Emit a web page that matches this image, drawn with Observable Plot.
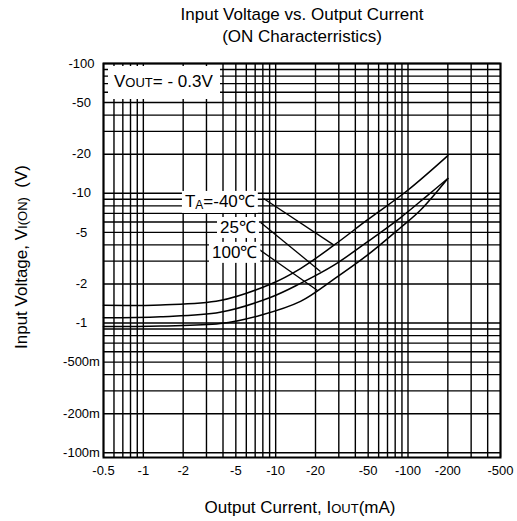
<!DOCTYPE html>
<html><head><meta charset="utf-8">
<script src="https://cdn.jsdelivr.net/npm/d3@7"></script>
<script src="https://cdn.jsdelivr.net/npm/@observablehq/plot@0.6"></script>
<style>
body{margin:0;background:#fff;}
svg{font-family:"Liberation Sans",Arial,sans-serif;}
</style>
</head><body><div id="chart"></div>
<script>
// Output current magnitude (mA) and input voltage magnitude (V) per temperature
const temps = ["-40", "25", "100"];
const current40 = [0.5, 1.35, 3.8, 9.2, 15.4, 27.4, 49, 99, 200];
const volt40    = [1.37, 1.38, 1.49, 2.0, 2.63, 3.96, 6.2, 10.5, 19.5];
const current25 = [0.5, 1.35, 3.8, 9.2, 15.4, 27.4, 49, 88, 140, 200];
const volt25    = [1.10, 1.12, 1.21, 1.58, 2.02, 2.78, 4.2, 6.5, 9.6, 13];
const current100 = [0.5, 1.35, 3.8, 7.7, 15.4, 27.4, 49, 88, 124, 200];
const volt100    = [0.94, 0.95, 0.99, 1.15, 1.47, 2.17, 3.32, 5.45, 7.4, 13];

// leader lines from labels to curves
const leaderI1 = [8.1, 7.7, 7.3];
const leaderV1 = [9.1, 5.96, 3.76];
const leaderI2 = [27.4, 21.8, 20.7];
const leaderV2 = [4.0, 2.5, 1.78];

// label anchors (left / baseline) in data coords
const labelI = [2.08, 3.83, 3.33];
const labelV = [7.78, 4.9, 3.15];

const xTicks = [0.5, 1, 2, 5, 10, 20, 50, 100, 200, 500];
const xTickLabels = ["-0.5", "-1", "-2", "-5", "-10", "-20", "-50", "-100", "-200", "-500"];
const yTicks = [100, 50, 20, 10, 5, 2, 1, 0.5, 0.2, 0.1];
const yTickLabels = ["-100", "-50", "-20", "-10", "-5", "-2", "-1", "-500m", "-200m", "-100m"];

const xDomain = [0.5, 500];
const yDomain = [0.092, 100];

const seriesI = [current40, current25, current100];
const seriesV = [volt40, volt25, volt100];
const rows = temps.flatMap((t, s) => seriesI[s].map((c, k) => ({temp: t, i: c, v: seriesV[s][k]})));
const leaders = temps.map((t, k) => ({i1: leaderI1[k], v1: leaderV1[k], i2: leaderI2[k], v2: leaderV2[k]}));

const xGrid = d3.scaleLog().domain(xDomain).ticks();
const yGrid = d3.scaleLog().domain(yDomain).ticks();

const gridStyle = {stroke: "#000", strokeOpacity: 1, strokeWidth: 1.4};

const chart = Plot.plot({
  width: 517, height: 521,
  marginTop: 63, marginBottom: 64, marginLeft: 103, marginRight: 17,
  style: {fontFamily: "Liberation Sans, Arial, sans-serif", fontSize: "13px", color: "#000", background: "#fff"},
  x: {type: "log", domain: xDomain, axis: null},
  y: {type: "log", domain: yDomain, axis: null},
  marks: [
    Plot.gridX(xGrid, gridStyle),
    Plot.gridY(yGrid, gridStyle),
    Plot.text(xTicks, {x: d => d, text: (d, i) => xTickLabels[i], frameAnchor: "bottom", dy: 17, fontSize: 13}),
    Plot.text(yTicks, {y: d => d, text: (d, i) => yTickLabels[i], frameAnchor: "left", dx: -22, textAnchor: "middle", fontSize: 13}),
    Plot.line(rows, {x: "i", y: "v", z: "temp", stroke: "#000", strokeWidth: 1.5, curve: "catmull-rom"}),
    Plot.link(leaders, {x1: "i1", y1: "v1", x2: "i2", y2: "v2", stroke: "#000", strokeWidth: 1.3}),
    Plot.frame({stroke: "#000", strokeWidth: 2})
  ]
});
document.getElementById("chart").appendChild(chart);

const svg = d3.select(chart);
const xs = chart.scale("x"), ys = chart.scale("y");
const frameLeft = xs.apply(xDomain[0]), frameTop = ys.apply(yDomain[1]);

function addBoxed(textSel, padL, padR, padT, padB) {
  const node = textSel.node();
  const b = node.getBBox();
  svg.insert("rect", () => node)
    .attr("x", b.x - padL).attr("y", b.y - padT)
    .attr("width", b.width + padL + padR).attr("height", b.height + padT + padB)
    .attr("fill", "#fff");
}

// VOUT box
svg.append("rect").attr("x", frameLeft + 5).attr("y", frameTop + 3).attr("width", 112).attr("height", 33).attr("fill", "#fff");
const vt = svg.append("text").attr("x", frameLeft + 11).attr("y", frameTop + 24)
  .attr("font-size", 17).attr("text-anchor", "start");
vt.append("tspan").text("V");
vt.append("tspan").attr("font-size", 13).text("OUT");
vt.append("tspan").text("= - 0.3V");

// temperature labels
const labelParts = [["T", "A", "=-40℃"], ["", "", "25℃"], ["", "", "100℃"]];
labelParts.forEach((p, k) => {
  const t = svg.append("text").attr("x", xs.apply(labelI[k])).attr("y", ys.apply(labelV[k]))
    .attr("font-size", 17).attr("text-anchor", "start");
  if (p[0]) {
    t.append("tspan").text(p[0]);
    t.append("tspan").attr("font-size", 12).attr("dy", 2).text(p[1]);
    t.append("tspan").attr("dy", -2).text(p[2]);
  } else {
    t.append("tspan").text(p[2]);
  }
  addBoxed(t, 3, 3, 1, 1);
});

// titles
svg.append("text").attr("x", 302).attr("y", 20).attr("text-anchor", "middle").attr("font-size", 17)
  .text("Input Voltage vs. Output Current");
svg.append("text").attr("x", 302).attr("y", 42).attr("text-anchor", "middle").attr("font-size", 17)
  .text("(ON Characterristics)");

// x title
const xt = svg.append("text").attr("x", 300).attr("y", 513).attr("text-anchor", "middle").attr("font-size", 17);
xt.append("tspan").text("Output Current, I");
xt.append("tspan").attr("font-size", 13).text("OUT");
xt.append("tspan").text("(mA)");

// y title
const yt = svg.append("text").attr("transform", "translate(27,257) rotate(-90)").attr("text-anchor", "middle").attr("font-size", 17);
yt.append("tspan").text("Input Voltage, V");
yt.append("tspan").attr("font-size", 13).text("I(ON)");
yt.append("tspan").text("\u00a0\u00a0(V)");
</script>
</body></html>
